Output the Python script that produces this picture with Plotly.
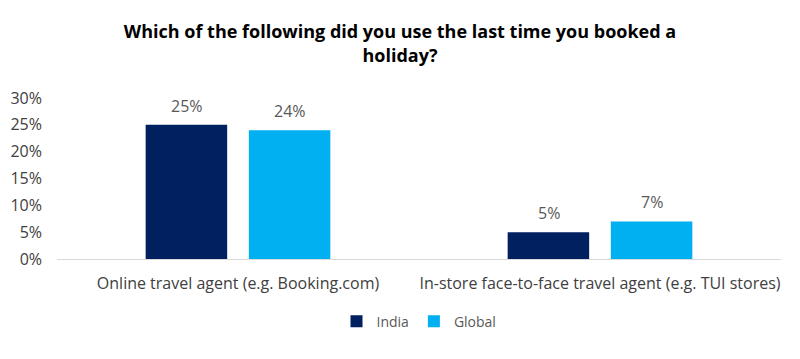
import plotly.graph_objects as go

categories = ["Online travel agent (e.g. Booking.com)", "In-store face-to-face travel agent (e.g. TUI stores)"]
india = [25, 5]
global_vals = [24, 7]
tick_vals = [0, 5, 10, 15, 20, 25, 30]
tick_text = ["0%", "5%", "10%", "15%", "20%", "25%", "30%"]

FONT = "Open Sans, Liberation Sans, sans-serif"
LABEL_FONT = dict(size=16, color="#595959", family=FONT)

fig = go.Figure()
fig.add_trace(go.Bar(name="India", x=categories, y=india, marker_color="#002060", marker_line_width=0))
fig.add_trace(go.Bar(name="Global", x=categories, y=global_vals, marker_color="#00B0F0", marker_line_width=0))

# data labels above bars
for vals, shift in ((india, -51.5), (global_vals, 51.5)):
    for c, v in zip(categories, vals):
        fig.add_annotation(x=c, y=v, text=f"{v}%", showarrow=False, xshift=shift, yshift=19,
                           yanchor="middle", font=LABEL_FONT)

fig.update_layout(
    width=800, height=359,
    barmode="group", bargap=0.43, bargroupgap=0.21,
    plot_bgcolor="white", paper_bgcolor="white",
    margin=dict(l=57, r=19, t=98, b=100),
    title=dict(text="<b>Which of the following did you use the last time you booked a<br>holiday?</b>",
               x=0.5, xanchor="center", y=0.893, yanchor="top",
               font=dict(size=18, color="#000000", family=FONT)),
    xaxis=dict(showline=True, linecolor="#D9D9D9", linewidth=1, ticks="", automargin=False,
               ticklabelstandoff=10,
               tickfont=dict(size=16, color="#404040", family=FONT)),
    yaxis=dict(range=[0, 30], tickvals=tick_vals, ticktext=tick_text, showgrid=False,
               zeroline=False, showline=False, automargin=False, ticklabelstandoff=14,
               tickfont=dict(size=16, color="#404040", family=FONT)),
    legend=dict(orientation="h", x=0.5, xanchor="center", y=-0.29, yanchor="top",
                itemwidth=30,
                font=dict(size=14, color="#595959", family=FONT), traceorder="normal"),
    showlegend=True,
)

fig.write_html("out.html", post_script="document.body.style.margin='0';",
               config={"displayModeBar": False})
